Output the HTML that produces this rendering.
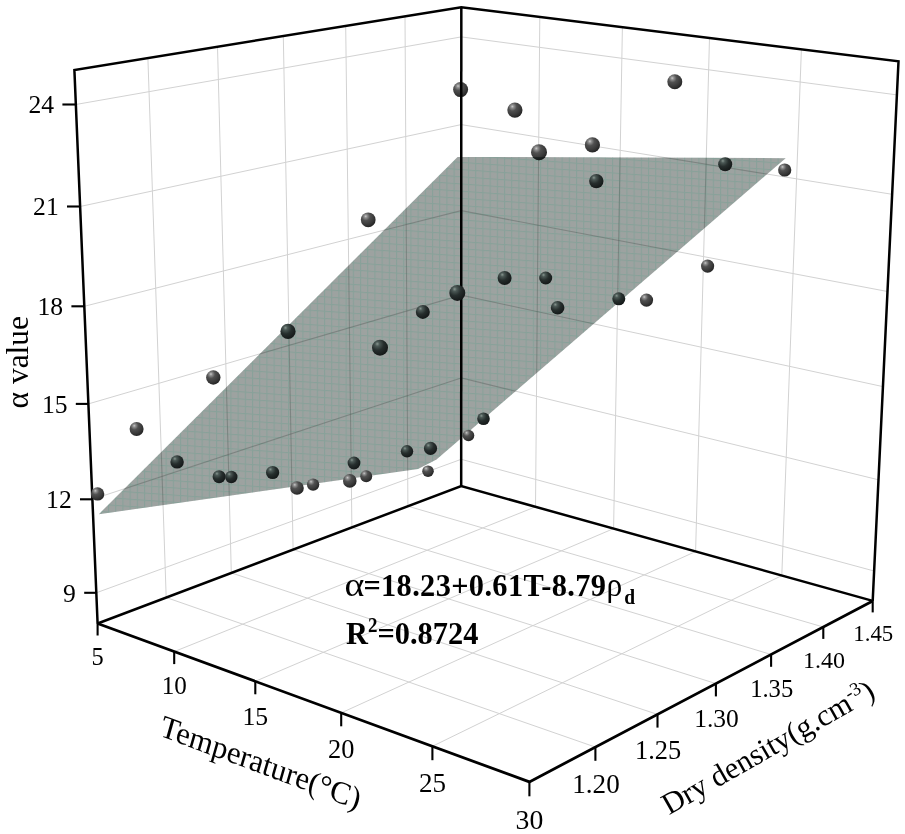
<!DOCTYPE html>
<html lang="en"><head><meta charset="utf-8"><title>Fitted plane: alpha vs temperature and dry density</title>
<style>html,body{margin:0;padding:0;background:#fff}body{width:905px;height:834px;overflow:hidden}svg{display:block}text{font-family:"Liberation Serif","DejaVu Serif",serif;fill:#000}.g line{stroke:#d2d2d2;stroke-width:1}.ax line,.ax polyline{stroke:#000;stroke-width:2.5;fill:none;stroke-linecap:butt;stroke-linejoin:miter}.tk line{stroke:#000;stroke-width:2.1}.b{font-weight:bold}</style></head><body>
<svg width="905" height="834" viewBox="0 0 905 834">
<defs>
<radialGradient id="sl" cx="0.36" cy="0.30" r="0.70" fx="0.33" fy="0.26"><stop offset="0" stop-color="#cacaca"/><stop offset="0.15" stop-color="#8e8e8e"/><stop offset="0.40" stop-color="#505050"/><stop offset="0.75" stop-color="#3a3a3a"/><stop offset="1" stop-color="#262626"/></radialGradient>
<radialGradient id="sd" cx="0.36" cy="0.30" r="0.70" fx="0.33" fy="0.26"><stop offset="0" stop-color="#87958f"/><stop offset="0.2" stop-color="#4b5855"/><stop offset="0.55" stop-color="#262e2d"/><stop offset="1" stop-color="#151919"/></radialGradient>
<pattern id="mesh" width="7.2" height="7.2" patternUnits="userSpaceOnUse" patternTransform="skewY(4)"><path d="M0 7.2L7.2 0M0 4.8L4.8 0M2.4 7.2L7.2 2.4M0 2.4L2.4 0M4.8 7.2L7.2 4.8" stroke="#b48c98" stroke-width="0.8" stroke-opacity="0.22" fill="none"/><path d="M0 0.5H7.2M0.5 0V7.2" stroke="#3f9a80" stroke-width="1.2" stroke-opacity="0.22" fill="none"/></pattern>
</defs>
<rect width="905" height="834" fill="#fff"/>
<g class="g"><line x1="96.3" y1="592.8" x2="461.2" y2="459.3"/><line x1="461.2" y1="459.3" x2="874.1" y2="571.0"/><line x1="92.4" y1="499.3" x2="461.2" y2="377.9"/><line x1="461.2" y1="377.9" x2="878.5" y2="479.8"/><line x1="88.4" y1="403.9" x2="461.2" y2="295.1"/><line x1="461.2" y1="295.1" x2="882.9" y2="386.6"/><line x1="84.3" y1="306.3" x2="461.2" y2="210.6"/><line x1="461.2" y1="210.6" x2="887.5" y2="291.5"/><line x1="80.1" y1="206.5" x2="461.2" y2="124.6"/><line x1="461.2" y1="124.6" x2="892.1" y2="194.3"/><line x1="75.8" y1="104.5" x2="461.3" y2="36.9"/><line x1="461.3" y1="36.9" x2="896.9" y2="94.9"/><line x1="166.2" y1="597.5" x2="147.9" y2="58.1"/><line x1="166.2" y1="597.5" x2="595.4" y2="747.1"/><line x1="231.3" y1="572.9" x2="217.5" y2="46.8"/><line x1="231.3" y1="572.9" x2="657.5" y2="714.4"/><line x1="293.1" y1="549.6" x2="283.3" y2="36.1"/><line x1="293.1" y1="549.6" x2="715.9" y2="683.6"/><line x1="351.9" y1="527.4" x2="345.7" y2="26.0"/><line x1="351.9" y1="527.4" x2="771.1" y2="654.5"/><line x1="407.9" y1="506.2" x2="405.0" y2="16.4"/><line x1="407.9" y1="506.2" x2="823.3" y2="627.0"/><line x1="535.5" y1="506.8" x2="539.8" y2="17.0"/><line x1="174.2" y1="651.6" x2="535.5" y2="506.8"/><line x1="613.6" y1="528.6" x2="622.4" y2="27.2"/><line x1="255.3" y1="681.3" x2="613.6" y2="528.6"/><line x1="695.6" y1="551.5" x2="709.5" y2="38.0"/><line x1="341.2" y1="712.9" x2="695.6" y2="551.5"/><line x1="781.8" y1="575.6" x2="801.4" y2="49.3"/><line x1="432.4" y1="746.3" x2="781.8" y2="575.6"/></g>
<polygon points="98.8,514.2 457.6,156.9 785.6,158.2 436.5,459.5 418.0,469.0" fill="#7f8a87" fill-opacity="0.78"/>
<polygon points="98.8,514.2 457.6,156.9 785.6,158.2 436.5,459.5 418.0,469.0" fill="url(#mesh)"/>
<clipPath id="pc"><polygon points="98.8,514.2 457.6,156.9 785.6,158.2 436.5,459.5 418.0,469.0"/></clipPath>
<g clip-path="url(#pc)" stroke="#39423f" stroke-opacity="0.24" stroke-width="1.1"><line x1="96.3" y1="592.8" x2="461.2" y2="459.3"/><line x1="461.2" y1="459.3" x2="874.1" y2="571.0"/><line x1="92.4" y1="499.3" x2="461.2" y2="377.9"/><line x1="461.2" y1="377.9" x2="878.5" y2="479.8"/><line x1="88.4" y1="403.9" x2="461.2" y2="295.1"/><line x1="461.2" y1="295.1" x2="882.9" y2="386.6"/><line x1="84.3" y1="306.3" x2="461.2" y2="210.6"/><line x1="461.2" y1="210.6" x2="887.5" y2="291.5"/><line x1="80.1" y1="206.5" x2="461.2" y2="124.6"/><line x1="461.2" y1="124.6" x2="892.1" y2="194.3"/><line x1="75.8" y1="104.5" x2="461.3" y2="36.9"/><line x1="461.3" y1="36.9" x2="896.9" y2="94.9"/><line x1="166.2" y1="597.5" x2="147.9" y2="58.1"/><line x1="166.2" y1="597.5" x2="595.4" y2="747.1"/><line x1="231.3" y1="572.9" x2="217.5" y2="46.8"/><line x1="231.3" y1="572.9" x2="657.5" y2="714.4"/><line x1="293.1" y1="549.6" x2="283.3" y2="36.1"/><line x1="293.1" y1="549.6" x2="715.9" y2="683.6"/><line x1="351.9" y1="527.4" x2="345.7" y2="26.0"/><line x1="351.9" y1="527.4" x2="771.1" y2="654.5"/><line x1="407.9" y1="506.2" x2="405.0" y2="16.4"/><line x1="407.9" y1="506.2" x2="823.3" y2="627.0"/><line x1="535.5" y1="506.8" x2="539.8" y2="17.0"/><line x1="174.2" y1="651.6" x2="535.5" y2="506.8"/><line x1="613.6" y1="528.6" x2="622.4" y2="27.2"/><line x1="255.3" y1="681.3" x2="613.6" y2="528.6"/><line x1="695.6" y1="551.5" x2="709.5" y2="38.0"/><line x1="341.2" y1="712.9" x2="695.6" y2="551.5"/><line x1="781.8" y1="575.6" x2="801.4" y2="49.3"/><line x1="432.4" y1="746.3" x2="781.8" y2="575.6"/></g>
<g><circle cx="460.6" cy="89.6" r="7.5" fill="url(#sl)"/></g>
<g class="ax"><polyline points="97.6,623.5 74.4,70.0 461.3,7.2 898.5,61.3 872.7,600.9"/><polyline points="461.3,7.2 461.2,486.1"/><polyline points="97.6,623.5 461.2,486.1 872.7,600.9"/></g>
<g class="ax" style="stroke-width:2.8"><polyline style="stroke-width:2.8" points="97.6,623.5 529.4,781.9 872.7,600.9"/></g>
<g><circle cx="97.6" cy="493.9" r="6.7" fill="url(#sl)"/><circle cx="136.6" cy="429.0" r="7.0" fill="url(#sl)"/><circle cx="177.1" cy="461.9" r="6.7" fill="url(#sd)"/><circle cx="213.3" cy="377.5" r="7.2" fill="url(#sl)"/><circle cx="219.1" cy="476.7" r="6.5" fill="url(#sd)"/><circle cx="231.3" cy="477.0" r="6.2" fill="url(#sd)"/><circle cx="272.6" cy="472.5" r="6.6" fill="url(#sd)"/><circle cx="288.0" cy="331.4" r="7.6" fill="url(#sd)"/><circle cx="297.0" cy="488.0" r="6.8" fill="url(#sl)"/><circle cx="313.1" cy="484.6" r="6.2" fill="url(#sl)"/><circle cx="349.8" cy="480.9" r="6.8" fill="url(#sl)"/><circle cx="354.0" cy="463.0" r="6.4" fill="url(#sd)"/><circle cx="366.2" cy="476.2" r="6.0" fill="url(#sl)"/><circle cx="368.2" cy="219.8" r="7.4" fill="url(#sl)"/><circle cx="380.0" cy="347.7" r="8.0" fill="url(#sd)"/><circle cx="407.0" cy="451.3" r="6.2" fill="url(#sd)"/><circle cx="422.8" cy="311.9" r="7.0" fill="url(#sd)"/><circle cx="428.0" cy="471.2" r="5.8" fill="url(#sl)"/><circle cx="430.5" cy="448.4" r="6.6" fill="url(#sd)"/><circle cx="457.3" cy="292.9" r="8.0" fill="url(#sd)"/><circle cx="468.5" cy="435.5" r="5.8" fill="url(#sl)"/><circle cx="483.5" cy="418.8" r="6.3" fill="url(#sd)"/><circle cx="504.6" cy="278.0" r="7.0" fill="url(#sd)"/><circle cx="514.9" cy="110.1" r="7.6" fill="url(#sl)"/><circle cx="539.0" cy="152.2" r="8.0" fill="url(#sl)"/><circle cx="545.7" cy="278.0" r="6.5" fill="url(#sd)"/><circle cx="557.6" cy="307.8" r="6.8" fill="url(#sd)"/><circle cx="592.4" cy="144.9" r="7.6" fill="url(#sl)"/><circle cx="596.3" cy="181.1" r="7.2" fill="url(#sd)"/><circle cx="618.8" cy="298.8" r="6.5" fill="url(#sd)"/><circle cx="646.5" cy="300.1" r="6.6" fill="url(#sl)"/><circle cx="674.8" cy="81.7" r="7.5" fill="url(#sl)"/><circle cx="707.6" cy="266.1" r="6.6" fill="url(#sl)"/><circle cx="725.2" cy="164.2" r="7.0" fill="url(#sd)"/><circle cx="784.7" cy="170.0" r="6.6" fill="url(#sl)"/></g>
<g clip-path="url(#pc)"><circle cx="539.0" cy="152.2" r="8.0" fill="url(#sd)"/></g>
<g class="tk"><line x1="84.2" y1="592.8" x2="96.3" y2="592.8"/><line x1="80.0" y1="499.3" x2="92.4" y2="499.3"/><line x1="75.8" y1="403.9" x2="88.4" y2="403.9"/><line x1="71.4" y1="306.3" x2="84.3" y2="306.3"/><line x1="67.0" y1="206.5" x2="80.1" y2="206.5"/><line x1="62.4" y1="104.5" x2="75.8" y2="104.5"/><line x1="97.6" y1="623.0" x2="97.6" y2="635.5"/><line x1="174.2" y1="651.1" x2="174.2" y2="664.1"/><line x1="255.3" y1="680.8" x2="255.3" y2="694.3"/><line x1="341.2" y1="712.4" x2="341.2" y2="726.3"/><line x1="432.4" y1="745.8" x2="432.4" y2="760.2"/><line x1="529.4" y1="781.4" x2="529.4" y2="796.3"/><line x1="595.4" y1="746.6" x2="595.4" y2="760.8"/><line x1="657.5" y1="713.9" x2="657.5" y2="727.6"/><line x1="715.9" y1="683.1" x2="715.9" y2="696.4"/><line x1="771.1" y1="654.0" x2="771.1" y2="666.8"/><line x1="823.3" y1="626.5" x2="823.3" y2="638.9"/><line x1="872.7" y1="600.4" x2="872.7" y2="612.4"/></g>
<g><text x="75.9" y="601.5" font-size="25.6" text-anchor="end">9</text><text x="71.7" y="508.0" font-size="25.6" text-anchor="end">12</text><text x="67.5" y="412.6" font-size="25.6" text-anchor="end">15</text><text x="63.1" y="315.0" font-size="25.6" text-anchor="end">18</text><text x="58.7" y="215.2" font-size="25.6" text-anchor="end">21</text><text x="54.1" y="113.2" font-size="25.6" text-anchor="end">24</text><text x="97.6" y="664.6" font-size="24.4" text-anchor="middle">5</text><text x="174.2" y="693.9" font-size="25.1" text-anchor="middle">10</text><text x="255.3" y="724.9" font-size="25.7" text-anchor="middle">15</text><text x="341.2" y="757.6" font-size="26.4" text-anchor="middle">20</text><text x="432.4" y="792.3" font-size="27.0" text-anchor="middle">25</text><text x="529.4" y="829.1" font-size="27.7" text-anchor="middle">30</text><text x="596.0" y="793.2" font-size="27.1" text-anchor="middle">1.20</text><text x="658.1" y="759.4" font-size="26.4" text-anchor="middle">1.25</text><text x="716.5" y="727.4" font-size="25.5" text-anchor="middle">1.30</text><text x="771.7" y="697.1" font-size="24.6" text-anchor="middle">1.35</text><text x="823.9" y="668.4" font-size="24.0" text-anchor="middle">1.40</text><text x="873.3" y="641.2" font-size="22.8" text-anchor="middle">1.45</text></g>
<text transform="translate(28 408.5) rotate(-90)" font-size="31.5">α value</text>
<text transform="matrix(0.9367 0.3502 -0.2756 0.9613 158.4 735.3)" font-size="31.4">Temperature(°C)</text>
<text transform="translate(668.9 815.3) rotate(-29.7)" font-size="30.5">Dry density(g.cm<tspan font-size="19" dy="-11">-3</tspan><tspan dy="11">)</tspan></text>
<g class="b" font-size="30.4"><text transform="translate(344.6 595.6) scale(1.2 1.05)" font-weight="normal" font-size="31.5">α</text><text transform="translate(363.4 595.6) scale(1 1.05)" textLength="242.6" lengthAdjust="spacing">=18.23+0.61T-8.79</text><text transform="translate(606.6 595.6) scale(1 1.05)" font-weight="normal" font-size="31.5">ρ</text><text transform="translate(624.2 603.6) scale(1 1.05)" font-size="19.5">d</text><text transform="translate(346 644.3) scale(1 1.05)">R<tspan font-size="19" dy="-11.5">2</tspan><tspan dy="11.5">=0.8724</tspan></text></g>
</svg></body></html>
